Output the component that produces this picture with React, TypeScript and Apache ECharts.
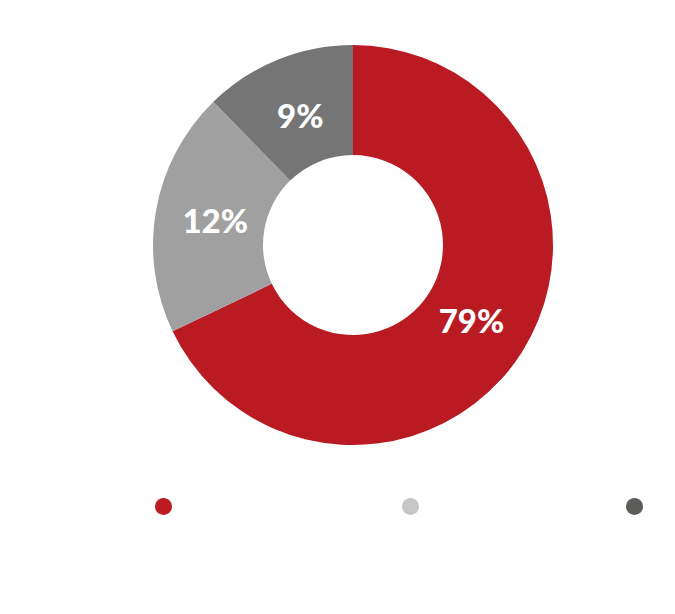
import React, { useEffect, useRef } from "react";
import * as echarts from "echarts";

const categories = ["Segment A", "Segment B", "Segment C"];
const sliceValues = [67.9, 19.8, 12.3];
const labelTexts = ["79%", "12%", "9%"];
const sliceColors = ["#BA1B22", "#A0A0A0", "#747574"];
const legendColors = ["#BA1C22", "#C6C6C6", "#5C5C5B"];
const legendLefts = [155, 402, 626];

const CX = 353;
const CY = 245;
const LABEL_R = 140;

export default function App() {
  const ref = useRef<HTMLDivElement>(null);
  useEffect(() => {
    document.body.style.margin = "0";
    const chart = echarts.init(ref.current!, null, { renderer: "svg" });
    chart.setOption({
      animation: false,
      backgroundColor: "#ffffff",
      legend: categories.map((name, i) => ({
        show: true,
        left: legendLefts[i],
        top: 498,
        padding: 0,
        orient: "horizontal",
        icon: "circle",
        itemWidth: 17,
        itemHeight: 17,
        selectedMode: false,
        formatter: () => "",
        data: [{ name, itemStyle: { color: legendColors[i] } }],
      })),
      series: [
        {
          type: "pie",
          center: [CX, CY],
          radius: [90, 200],
          startAngle: 90,
          clockwise: true,
          avoidLabelOverlap: false,
          itemStyle: { borderWidth: 0 },
          emphasis: { disabled: true },
          label: {
            show: true,
            position: "inside",
            color: "#ffffff",
            fontFamily: "Lato",
            fontWeight: 900,
            fontSize: 33,
            formatter: (p: any) => labelTexts[p.dataIndex],
          },
          labelLayout: (p: any) => {
            const r = p.labelRect;
            const lx = r.x + r.width / 2;
            const ly = r.y + r.height / 2;
            const d = Math.hypot(lx - CX, ly - CY) || 1;
            const k = LABEL_R / d;
            return {
              dx: CX + (lx - CX) * k - lx,
              dy: CY + (ly - CY) * k - ly,
            };
          },
          labelLine: { show: false },
          data: categories.map((name, i) => ({
            name,
            value: sliceValues[i],
            itemStyle: { color: sliceColors[i] },
          })),
        },
      ],
    });
    return () => chart.dispose();
  }, []);
  return <div ref={ref} style={{ width: 675, height: 614 }} />;
}
